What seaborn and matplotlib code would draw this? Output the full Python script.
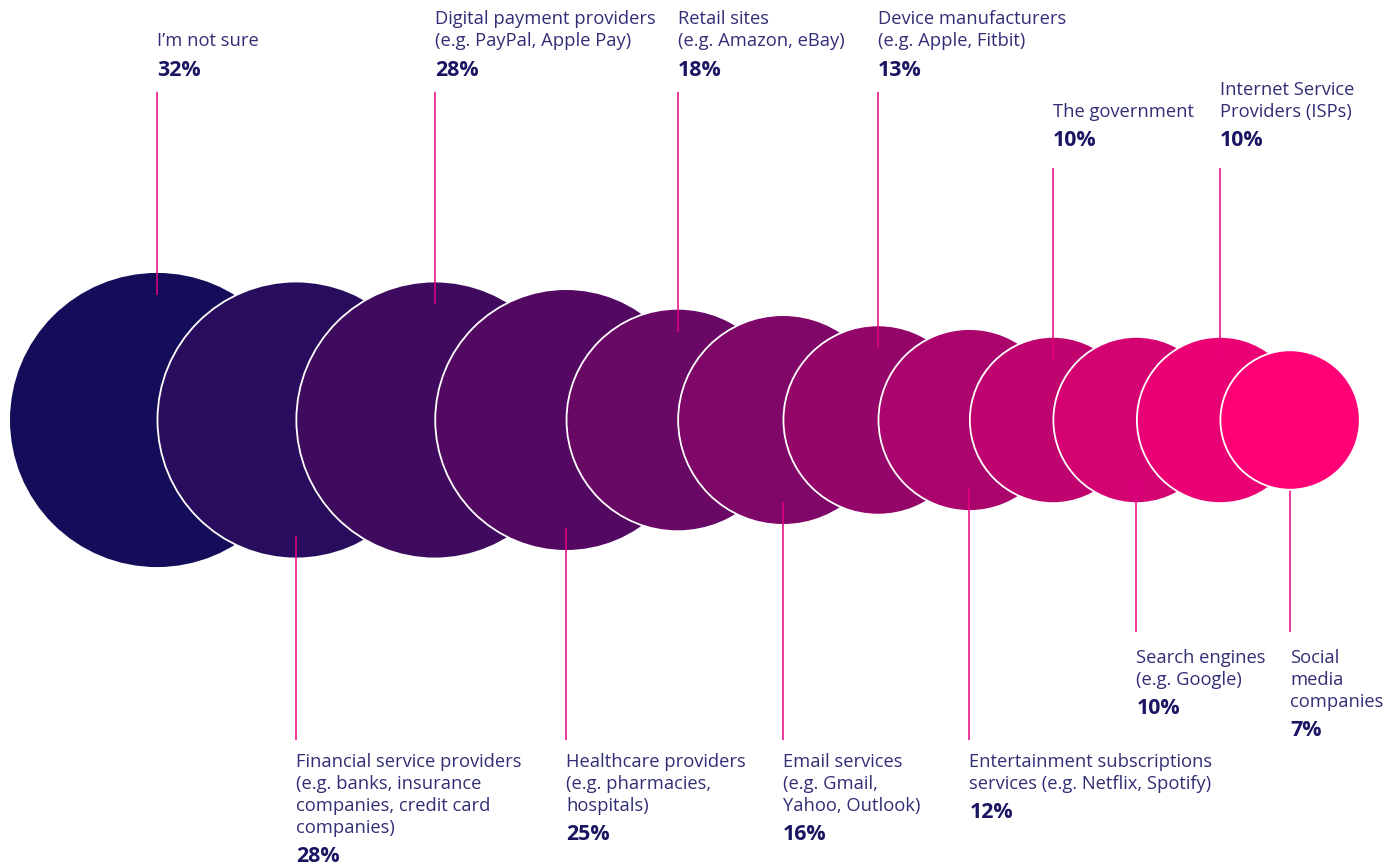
import numpy as np
import pandas as pd
import matplotlib
matplotlib.use("Agg")
import matplotlib.pyplot as plt
import seaborn as sns

# Share of respondents naming each organisation type
categories = [
    "I’m not sure",
    "Financial service providers\n(e.g. banks, insurance\ncompanies, credit card\ncompanies)",
    "Digital payment providers\n(e.g. PayPal, Apple Pay)",
    "Healthcare providers\n(e.g. pharmacies,\nhospitals)",
    "Retail sites\n(e.g. Amazon, eBay)",
    "Email services\n(e.g. Gmail,\nYahoo, Outlook)",
    "Device manufacturers\n(e.g. Apple, Fitbit)",
    "Entertainment subscriptions\nservices (e.g. Netflix, Spotify)",
    "The government",
    "Search engines\n(e.g. Google)",
    "Internet Service\nProviders (ISPs)",
    "Social\nmedia\ncompanies",
]
values = [32, 28, 28, 25, 18, 16, 13, 12, 10, 10, 10, 7]
value_labels = [f"{v}%" for v in values]

# ---- styling / layout -----------------------------------------------------
sns.set_theme(style="white")
plt.rcParams["font.family"] = ["Open Sans", "DejaVu Sans"]

W, H, DPI = 1400, 866, 100
CY = 420                 # vertical centre of the bubble row (px)
K = 26.0                 # radius scale: r = K * sqrt(value), area ~ value
EDGE_LW = 1.3            # white outline width (pt)
LINE_COLOR = "#e6007e"
TEXT_COLOR = "#322e76"
PCT_COLOR = "#1a1562"
palette = sns.blend_palette(["#130d5a", "#ff0077"], len(values))

radii = K * np.sqrt(np.array(values, dtype=float))
# each bubble starts roughly where the previous one is centred
centers = [10 + radii[0]]
for i in range(1, len(radii)):
    centers.append(centers[-1] + radii[i] + 1.3)
centers = np.array(centers)

df = pd.DataFrame({"x": centers, "y": CY, "category": categories, "value": values})

# marker area in pt^2 for the requested pixel radius
px2pt = 72.0 / DPI
size_map = {v: (2 * (K * np.sqrt(v) + EDGE_LW / (2 * px2pt)) * px2pt) ** 2 for v in sorted(set(values))}

fig = plt.figure(figsize=(W / DPI, H / DPI), dpi=DPI)
ax = fig.add_axes([0, 0, 1, 1])
ax.set_xlim(0, W)
ax.set_ylim(H, 0)
ax.set_aspect("equal")
ax.axis("off")

sns.scatterplot(
    data=df, x="x", y="y", hue="category", hue_order=categories, palette=palette,
    size="value", sizes=size_map, edgecolor="white", linewidth=EDGE_LW,
    legend=False, ax=ax, zorder=2,
)

TEXT_FS = 13.2
PCT_FS = 15.4
LINE_GAP = 22.0
BASE_OFF = 6            # baseline offset below a line's visual centre

def draw_text_block(x, first_center, lines):
    for j, ln in enumerate(lines):
        ax.text(x, first_center + j * LINE_GAP + BASE_OFF, ln, ha="left", va="baseline",
                fontsize=TEXT_FS, color=TEXT_COLOR)

for i, (cx, r, lab, pct) in enumerate(zip(centers, radii, categories, value_labels)):
    lines = lab.split("\n")
    x = cx
    inset = 0 if i == len(values) - 1 else 22
    if i % 2 == 0:
        # labels above the bubbles
        if i < 8:
            pct_c, line_top = 68, 92
        else:
            pct_c, line_top = 139, 168
        first = pct_c - 28 - (len(lines) - 1) * LINE_GAP
        draw_text_block(x, first, lines)
        ax.text(x, pct_c + 7.5, pct, ha="left", va="baseline", fontsize=PCT_FS,
                fontweight="bold", color=PCT_COLOR)
        ax.plot([cx, cx], [line_top, CY - r + inset], color=LINE_COLOR, lw=1.1,
                solid_capstyle="butt", zorder=3)
    else:
        # labels below the bubbles
        if i < 8:
            first, line_bot = 761, 740
        else:
            first, line_bot = 657, 632
        draw_text_block(x, first, lines)
        pct_c = first + (len(lines) - 1) * LINE_GAP + 27.5
        ax.text(x, pct_c + 7, pct, ha="left", va="baseline", fontsize=PCT_FS,
                fontweight="bold", color=PCT_COLOR)
        ax.plot([cx, cx], [CY + r - inset, line_bot], color=LINE_COLOR, lw=1.1,
                solid_capstyle="butt", zorder=3 if inset else 1)

fig.savefig("out.png", dpi=DPI, facecolor="white")
